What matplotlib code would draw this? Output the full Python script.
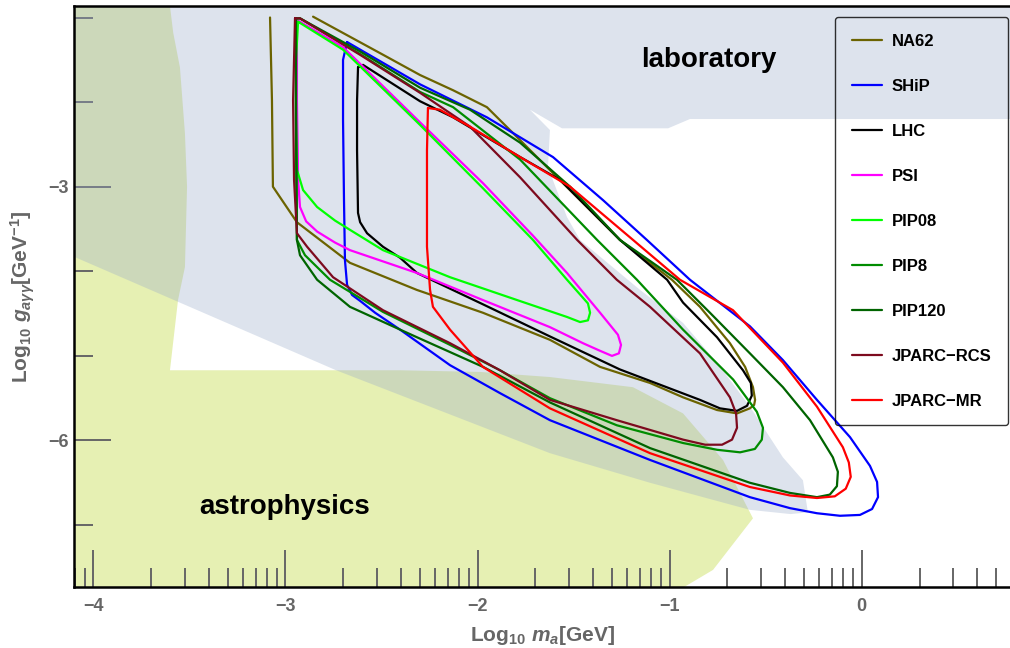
import matplotlib
matplotlib.use("Agg")
import matplotlib.pyplot as plt
import numpy as np

plt.rcParams['font.family'] = ['Liberation Sans', 'DejaVu Sans']
plt.rcParams['font.weight'] = 'bold'
plt.rcParams['axes.labelweight'] = 'bold'
plt.rcParams['mathtext.fontset'] = 'custom'
plt.rcParams['mathtext.rm'] = 'Liberation Sans:bold'
plt.rcParams['mathtext.it'] = 'Liberation Sans:bold:italic'
plt.rcParams['mathtext.bf'] = 'Liberation Sans:bold'

# ---------------- data (log10 m_a [GeV], log10 g [GeV^-1]) ----------------
na62_logm = [-3.080, -3.070, -3.065, -2.940, -2.664, -2.316, -1.972, -1.623, -1.362, -1.102,
             -0.930, -0.753, -0.649, -0.582, -0.560, -0.555, -0.566, -0.607, -0.686, -0.842,
             -0.988, -1.258, -1.607, -1.778, -1.951, -2.127, -2.299, -2.492, -2.856]
na62_logg = [-1.00, -1.98, -3.00, -3.42, -3.90, -4.22, -4.49, -4.81, -5.13, -5.32,
             -5.49, -5.64, -5.68, -5.62, -5.58, -5.52, -5.37, -5.13, -4.85, -4.42,
             -4.10, -3.63, -2.84, -2.45, -2.06, -1.86, -1.68, -1.44, -0.99]

ship_logm = [-2.679, -2.700, -2.700, -2.695, -2.690, -2.679, -2.653, -2.611, -2.533, -2.403,
             -2.143, -1.883, -1.623, -1.102, -0.582, -0.373, -0.233, -0.113, -0.009, 0.054,
             0.085, 0.080, 0.043, -0.061, -0.233, -0.410, -0.582, -0.894, -1.118, -1.346,
             -1.607, -1.951, -2.299, -2.679]
ship_logg = [-1.29, -1.50, -2.21, -3.16, -3.87, -4.16, -4.28, -4.35, -4.49, -4.69,
             -5.11, -5.44, -5.76, -6.23, -6.67, -6.80, -6.86, -6.89, -6.88, -6.81,
             -6.67, -6.49, -6.30, -5.96, -5.52, -5.05, -4.65, -4.10, -3.63, -3.16,
             -2.65, -2.18, -1.79, -1.29]

lhc_logm = [-2.622, -2.627, -2.627, -2.622, -2.611, -2.575, -2.492, -2.403, -2.315, -1.972,
            -1.623, -1.259, -0.842, -0.738, -0.649, -0.597, -0.572, -0.577, -0.618, -0.753,
            -0.930, -1.013, -1.258, -1.570, -1.778, -2.127, -2.299, -2.596, -2.622]
lhc_logg = [-1.59, -1.98, -2.57, -3.31, -3.42, -3.55, -3.71, -3.84, -4.02, -4.39,
            -4.77, -5.16, -5.52, -5.62, -5.65, -5.59, -5.47, -5.32, -5.17, -4.78,
            -4.37, -4.10, -3.63, -2.92, -2.65, -2.18, -1.99, -1.56, -1.59]

psi_logm = [-2.940, -2.940, -2.934, -2.924, -2.892, -2.835, -2.742, -2.664, -2.315, -1.972,
            -1.623, -1.451, -1.362, -1.300, -1.264, -1.253, -1.269, -1.362, -1.534, -1.711,
            -1.971, -2.299, -2.700, -2.924, -2.940]
psi_logg = [-1.03, -1.98, -2.92, -3.24, -3.41, -3.53, -3.66, -3.75, -4.02, -4.34,
            -4.66, -4.85, -4.94, -5.00, -4.97, -4.87, -4.75, -4.49, -4.02, -3.58,
            -2.96, -2.24, -1.35, -1.05, -1.03]

pip08_logm = [-2.934, -2.945, -2.945, -2.940, -2.908, -2.835, -2.742, -2.664, -2.492, -2.143,
              -1.794, -1.534, -1.466, -1.425, -1.414, -1.425, -1.534, -1.711, -1.971, -2.299,
              -2.700, -2.934]
pip08_logg = [-1.05, -1.50, -2.21, -2.80, -3.04, -3.24, -3.40, -3.51, -3.75, -4.07,
              -4.34, -4.54, -4.60, -4.58, -4.49, -4.38, -4.10, -3.63, -3.02, -2.27,
              -1.38, -1.05]

pip8_logm = [-2.945, -2.945, -2.940, -2.898, -2.768, -2.492, -2.143, -1.883, -1.623, -1.275,
             -0.930, -0.753, -0.633, -0.556, -0.520, -0.514, -0.546, -0.669, -0.930, -1.170,
             -1.377, -1.778, -2.127, -2.299, -2.612, -2.924, -2.945]
pip8_logg = [-1.01, -1.98, -3.63, -3.81, -4.10, -4.48, -4.87, -5.17, -5.50, -5.82,
             -6.03, -6.11, -6.14, -6.10, -5.99, -5.85, -5.66, -5.28, -4.69, -4.10,
             -3.63, -2.68, -2.06, -1.88, -1.43, -1.01, -1.01]

pip120_logm = [-2.945, -2.945, -2.940, -2.924, -2.835, -2.664, -2.315, -1.971, -1.623, -1.102,
               -0.582, -0.373, -0.233, -0.166, -0.129, -0.124, -0.150, -0.269, -0.410, -0.582,
               -0.790, -0.962, -1.258, -1.518, -1.778, -2.039, -2.299, -2.612, -2.924, -2.945]
pip120_logg = [-1.01, -2.21, -3.63, -3.81, -4.10, -4.42, -4.78, -5.13, -5.55, -6.09,
               -6.50, -6.62, -6.67, -6.64, -6.54, -6.37, -6.20, -5.76, -5.37, -4.97,
               -4.49, -4.10, -3.63, -3.00, -2.48, -2.09, -1.83, -1.40, -1.01, -1.01]

rcs_logm = [-2.950, -2.960, -2.955, -2.940, -2.887, -2.752, -2.492, -2.143, -1.883, -1.623,
            -1.275, -0.930, -0.815, -0.727, -0.675, -0.649, -0.654, -0.686, -0.842, -1.102,
            -1.275, -1.481, -1.778, -2.039, -2.299, -2.612, -2.924, -2.950]
rcs_logg = [-1.01, -1.98, -2.92, -3.55, -3.71, -4.07, -4.46, -4.85, -5.17, -5.52,
            -5.76, -5.99, -6.05, -6.05, -5.99, -5.85, -5.68, -5.49, -4.97, -4.42,
            -4.10, -3.63, -2.89, -2.29, -1.89, -1.44, -1.01, -1.01]

mr_logm = [-2.258, -2.263, -2.263, -2.247, -2.232, -2.143, -1.972, -1.623, -1.102, -0.582,
           -0.373, -0.233, -0.140, -0.083, -0.057, -0.067, -0.098, -0.233, -0.410, -0.670,
           -0.946, -1.190, -1.518, -1.778, -2.039, -2.196, -2.258]
mr_logg = [-2.07, -2.57, -3.71, -4.22, -4.42, -4.69, -5.13, -5.62, -6.15, -6.55,
           -6.65, -6.68, -6.66, -6.57, -6.43, -6.26, -6.08, -5.60, -5.08, -4.46,
           -4.10, -3.63, -3.00, -2.65, -2.29, -2.09, -2.07]

# shaded exclusion regions
lab_logm = [-4.20, 0.90, 0.90, -0.894, -1.008, -1.560, -1.727, -1.623, -1.633, -1.534,
            -1.466, -1.154, -0.930, -0.753, -0.582, -0.410, -0.306, -0.280, -0.370, -0.582,
            -1.102, -1.623, -2.736, -4.20]
lab_logg = [-0.50, -0.50, -2.20, -2.20, -2.31, -2.31, -2.09, -2.33, -2.77, -3.36,
            -3.63, -4.22, -4.61, -5.08, -5.60, -6.20, -6.47, -6.85, -6.87, -6.82,
            -6.50, -6.15, -5.17, -3.73]

astro_logm = [-4.20, -4.20, -3.601, -3.601, -3.584, -3.549, -3.523, -3.512, -3.523, -3.559,
              -3.601, -2.40, -1.985, -1.623, -1.191, -0.930, -0.722, -0.566, -0.774, -0.930,
              -0.930]
astro_logg = [-8.00, -0.50, -0.50, -0.864, -1.18, -1.59, -2.37, -3.00, -3.95, -4.34,
              -5.17, -5.17, -5.19, -5.25, -5.37, -5.68, -6.23, -6.92, -7.53, -7.74,
              -8.00]

labels = ["NA62", "SHiP", "LHC", "PSI", "PIP08", "PIP8", "PIP120", "JPARC\u2212RCS", "JPARC\u2212MR"]
colors = ["#6b6300", "#0000ff", "#000000", "#ff00ff", "#00ff00", "#008c00", "#006400", "#7d0a1e", "#ff0000"]
xs = [na62_logm, ship_logm, lhc_logm, psi_logm, pip08_logm, pip8_logm, pip120_logm, rcs_logm, mr_logm]
ys = [na62_logg, ship_logg, lhc_logg, psi_logg, pip08_logg, pip8_logg, pip120_logg, rcs_logg, mr_logg]

xmajor = [-4, -3, -2, -1, 0]
ymajor = [-3, -6]
yminor = [-1, -2, -4, -5, -7]

# ---------------- figure ----------------
fig = plt.figure(figsize=(10.10, 6.48), dpi=100)
ax = fig.add_axes([74 / 1010, 61 / 648, 936 / 1010, 581 / 648])

ax.fill(astro_logm, astro_logg, color="#e6f0b3", lw=0, zorder=1)
ax.fill(lab_logm, lab_logg, color="#98aacb", alpha=0.33, lw=0, zorder=2)

handles = []
for x, y, c, lab in zip(xs, ys, colors, labels):
    h, = ax.plot(x, y, color=c, lw=1.6, label=lab, zorder=3,
                 solid_joinstyle='round', solid_capstyle='round')
    handles.append(h)

ax.text(-0.795, -1.585, "laboratory", ha="center", va="baseline", fontsize=20,
        fontweight="bold", color="black", zorder=5)
ax.text(-3.002, -6.869, "astrophysics", ha="center", va="baseline", fontsize=20,
        fontweight="bold", color="black", zorder=5)

ax.set_xlim(-4.1005, 0.772)
ax.set_ylim(-7.732, -0.864)

xminor = [n + np.log10(k) for n in range(-5, 1) for k in range(2, 10)]
xminor = [v for v in xminor if -4.1005 < v < 0.772]
ax.set_xticks(xmajor)
ax.set_xticks(xminor, minor=True)
ax.set_yticks(ymajor)
ax.set_yticks(yminor, minor=True)

ax.tick_params(which="both", direction="in", color="#666666", top=False, right=False,
               labelcolor="#666666", labelsize=13)
ax.tick_params(which="major", length=26.6, width=1.4)
ax.tick_params(which="minor", length=13.7, width=1.4)
ax.tick_params(axis="x", which="major", pad=8)
ax.tick_params(axis="y", which="major", pad=4)
for t in ax.get_xticklabels() + ax.get_yticklabels():
    t.set_fontweight("bold")

for side in ["left", "bottom", "top"]:
    ax.spines[side].set_color("black")
    ax.spines[side].set_linewidth(1.8)
ax.spines["right"].set_visible(False)

ax.set_xlabel(r"Log$_{10}$ $m_a$[GeV]", color="#666666", fontsize=15, fontweight="bold")
ax.set_ylabel(r"Log$_{10}$ $g_{a\gamma\gamma}$[GeV$^{-1}$]", color="#666666", fontsize=15,
              fontweight="bold")
ax.xaxis.set_label_coords(0.5, -0.063)
ax.yaxis.set_label_coords(-0.040, 0.5)

leg = ax.legend(handles=handles, loc="upper right", bbox_to_anchor=(0.998, 0.981),
                borderaxespad=0, fancybox=True, frameon=True, handlelength=1.8,
                handletextpad=0.6, labelspacing=1.80, borderpad=1.0,
                prop={"family": "Liberation Sans", "weight": "bold", "size": 12})
fr = leg.get_frame()
fr.set_facecolor("none")
fr.set_edgecolor("black")
fr.set_linewidth(1.0)
leg.set_zorder(6)

fig.savefig("out.png", dpi=100)
